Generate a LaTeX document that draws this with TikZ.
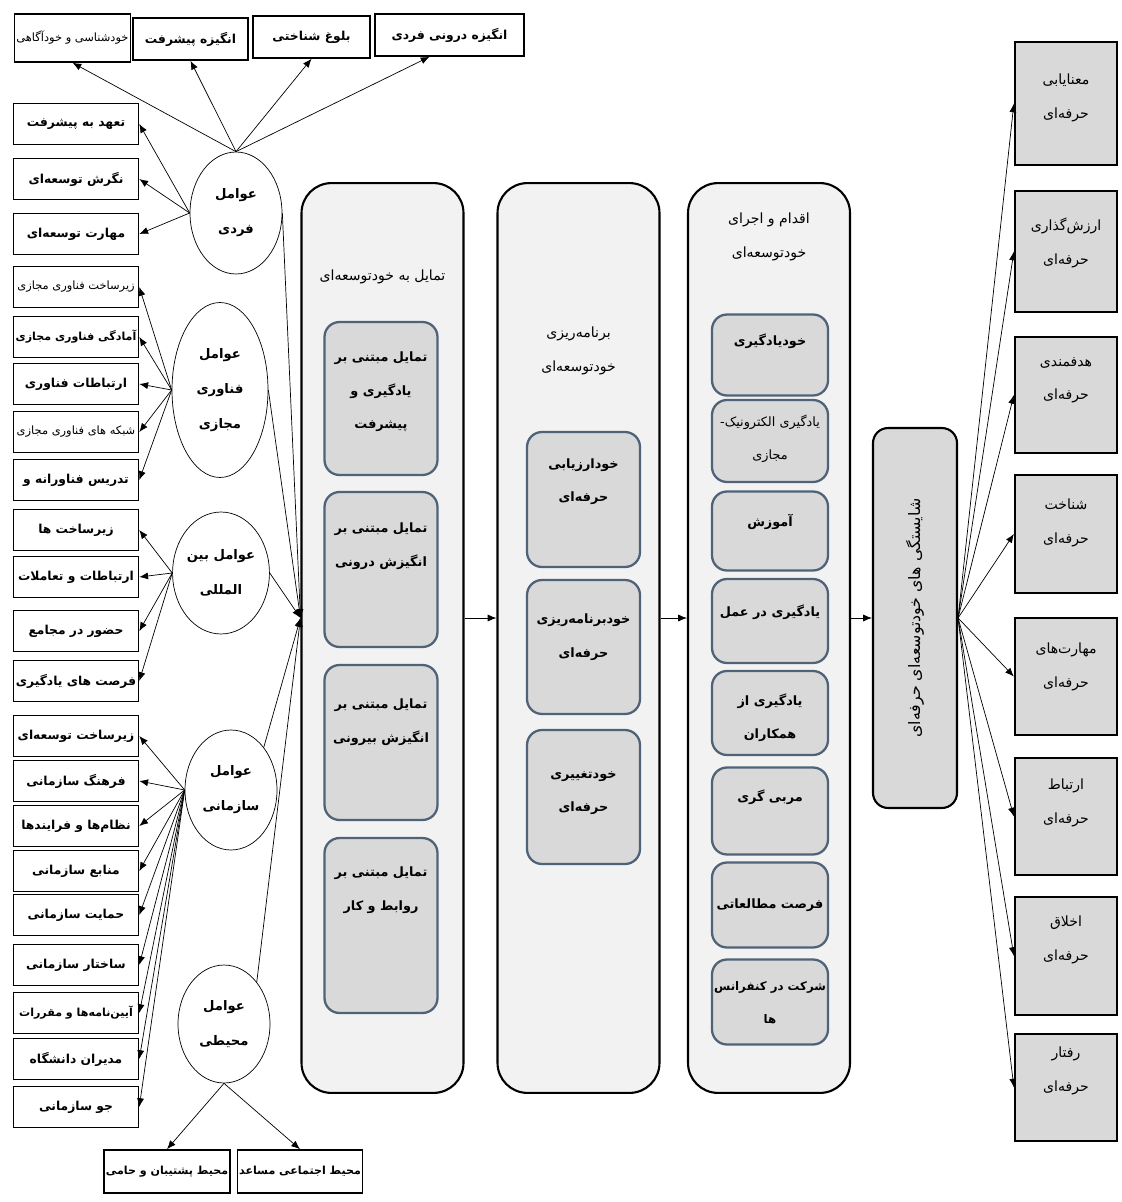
\documentclass[tikz,border=0pt]{standalone}
\usepackage{fontspec}
\usepackage{xcolor}
\usepackage{tikz}
\usetikzlibrary{shapes.geometric,arrows.meta}
\newfontfamily\farsi[Script=Arabic]{DejaVu Sans}
\TeXXeTstate=1
\newcommand{\fa}[1]{\beginR#1\endR}
\definecolor{panelgray}{HTML}{F2F2F2}
\definecolor{boxgray}{HTML}{D9D9D9}
\definecolor{boxblue}{HTML}{4F6278}

\begin{document}
\begin{tikzpicture}[x=0.02cm,y=-0.02cm,
    every node/.style={font=\farsi\fontsize{8}{10}\selectfont},
    factor/.style={draw,line width=0.9pt,fill=white,minimum width=2.5cm,minimum height=0.82cm,inner sep=1pt,font=\farsi\bfseries\fontsize{7}{10}\selectfont},
    longfactor/.style={factor,font=\farsi\bfseries\fontsize{6.3}{10}\selectfont},
    thinfactor/.style={factor,font=\farsi\fontsize{6.5}{10}\selectfont},
    cause/.style={draw,ellipse,fill=white,thin,minimum width=1.84cm,minimum height=2.44cm,inner sep=0pt,align=center,font=\farsi\bfseries\fontsize{7.5}{20}\selectfont},
    panel/.style={draw,line width=1.2pt,fill=panelgray,rounded corners=0.6cm,minimum width=3.24cm,minimum height=18.2cm},
    stage/.style={draw=boxblue,line width=1.3pt,fill=boxgray,rounded corners=0.3cm,minimum width=2.26cm},
    outcome/.style={draw,line width=1.3pt,fill=boxgray,minimum width=2.04cm},
    txt/.style={align=center,font=\farsi\fontsize{8}{19}\selectfont},
    btxt/.style={align=center,font=\farsi\bfseries\fontsize{7.3}{19}\selectfont},
    arr/.style={-{Latex[length=5pt,width=4pt]},thin}]
        \useasboundingbox (0,0) rectangle (1121,1202);

        \node[factor,minimum width=2.3cm,minimum height=0.96cm,font=\farsi\fontsize{6.5}{10}\selectfont] (t1) at (72.5,38) {\fa{خودشناسی و خودآگاهی}};
        \node[factor,minimum width=2.3cm,minimum height=0.84cm] (t2) at (190.5,39) {\fa{انگیزه پیشرفت}};
        \node[factor,minimum width=2.34cm,minimum height=0.84cm] (t3) at (311.5,37) {\fa{بلوغ شناختی}};
        \node[factor,minimum width=2.98cm,minimum height=0.84cm] (t4) at (449.5,35) {\fa{انگیزه درونی فردی}};

        \node[factor] (f1) at (76,124) {\fa{تعهد به پیشرفت}};
        \node[factor] (f2) at (76,179) {\fa{نگرش توسعه‌ای}};
        \node[factor] (f3) at (76,234) {\fa{مهارت توسعه‌ای}};
        \node[thinfactor] (f4) at (76,287) {\fa{زیرساخت فناوری مجازی}};
        \node[longfactor] (f5) at (76,337) {\fa{آمادگی فناوری مجازی}};
        \node[factor] (f6) at (76,384) {\fa{ارتباطات فناوری}};
        \node[thinfactor] (f7) at (76,432) {\fa{شبکه های فناوری مجازی}};
        \node[factor] (f8) at (76,480) {\fa{تدریس فناورانه و}};
        \node[factor] (f9) at (76,530) {\fa{زیرساخت ها}};
        \node[factor] (f10) at (76,577) {\fa{ارتباطات و تعاملات}};
        \node[factor] (f11) at (76,631) {\fa{حضور در مجامع}};
        \node[factor] (f12) at (76,681) {\fa{فرصت های یادگیری}};
        \node[factor] (f13) at (76,736) {\fa{زیرساخت توسعه‌ای}};
        \node[factor] (f14) at (76,781) {\fa{فرهنگ سازمانی}};
        \node[factor] (f15) at (76,826) {\fa{نظام‌ها و فرایندها}};
        \node[factor] (f16) at (76,871) {\fa{منابع سازمانی}};
        \node[factor] (f17) at (76,915) {\fa{حمایت سازمانی}};
        \node[factor] (f18) at (76,965) {\fa{ساختار سازمانی}};
        \node[longfactor] (f19) at (76,1013) {\fa{آیین‌نامه‌ها و مقررات}};
        \node[factor] (f20) at (76,1059) {\fa{مدیران دانشگاه}};
        \node[factor] (f21) at (76,1107) {\fa{جو سازمانی}};
        \node[longfactor,minimum width=2.48cm,minimum height=0.86cm] (b1) at (167,1171.5) {\fa{محیط پشتیبان و حامی}};
        \node[longfactor,minimum width=2.48cm,minimum height=0.86cm] (b2) at (300,1171.5) {\fa{محیط اجتماعی مساعد}};

        \node[cause] (fardi) at (236,213) {\fa{عوامل}\\\fa{فردی}};
        \node[cause,minimum width=1.92cm,minimum height=3.5cm] (fanavari) at (220,390) {\fa{عوامل}\\\fa{فناوری}\\\fa{مجازی}};
        \node[cause] (beyn) at (221,573) {\fa{عوامل بین}\\\fa{المللی}};
        \node[cause,minimum height=2.4cm] (sazmani) at (231,790) {\fa{عوامل}\\\fa{سازمانی}};
        \node[cause,minimum height=2.36cm] (mohiti) at (224,1024) {\fa{عوامل}\\\fa{محیطی}};

        \node[panel] (want) at (382.5,638) {};
        \node[panel] (plan) at (578.5,638) {};
        \node[panel] (act) at (769,638) {};
        \node[txt] at (382.5,277) {\fa{تمایل به خودتوسعه‌ای}};
        \node[txt] at (578.5,351) {\fa{برنامه‌ریزی}\\\fa{خودتوسعه‌ای}};
        \node[txt] at (769,237) {\fa{اقدام و اجرای}\\\fa{خودتوسعه‌ای}};

        \node[stage,minimum height=3.06cm] (w1) at (381,398.5) {};
        \node[stage,minimum height=3.1cm] (w2) at (381,569.5) {};
        \node[stage,minimum height=3.1cm] (w3) at (381,742.5) {};
        \node[stage,minimum height=3.5cm] (w4) at (381,925.5) {};
        \node[btxt] at (381,392) {\fa{تمایل مبتنی بر}\\\fa{یادگیری و}\\\fa{پیشرفت}};
        \node[btxt] at (381,546) {\fa{تمایل مبتنی بر}\\\fa{انگیزش درونی}};
        \node[btxt] at (381,722) {\fa{تمایل مبتنی بر}\\\fa{انگیزش بیرونی}};
        \node[btxt] at (381,890) {\fa{تمایل مبتنی بر}\\\fa{روابط و کار}};

        \node[stage,minimum height=2.7cm] (p1) at (583.5,499.5) {};
        \node[stage,minimum height=2.68cm] (p2) at (583.5,647) {};
        \node[stage,minimum height=2.68cm] (p3) at (583.5,797) {};
        \node[btxt] at (583.5,482) {\fa{خودارزیابی}\\\fa{حرفه‌ای}};
        \node[btxt] at (583.5,637) {\fa{خودبرنامه‌ریزی}\\\fa{حرفه‌ای}};
        \node[btxt] at (583.5,793) {\fa{خودتغییری}\\\fa{حرفه‌ای}};

        \node[stage,minimum width=2.32cm,minimum height=1.62cm] (a1) at (770,355) {};
        \node[stage,minimum width=2.32cm,minimum height=1.64cm] (a2) at (770,441) {};
        \node[stage,minimum width=2.32cm,minimum height=1.58cm] (a3) at (770,531) {};
        \node[stage,minimum width=2.32cm,minimum height=1.68cm] (a4) at (770,621) {};
        \node[stage,minimum width=2.32cm,minimum height=1.68cm] (a5) at (770,713) {};
        \node[stage,minimum width=2.32cm,minimum height=1.74cm] (a6) at (770,811) {};
        \node[stage,minimum width=2.32cm,minimum height=1.7cm] (a7) at (770,905) {};
        \node[stage,minimum width=2.32cm,minimum height=1.7cm] (a8) at (770,1002) {};
        \node[btxt] at (770,341) {\fa{خودیادگیری}};
        \node[txt,font=\farsi\fontsize{7.3}{19}\selectfont] at (770,439) {\fa{یادگیری الکترونیک\kern0pt-}\\\fa{مجازی}};
        \node[btxt] at (770,522) {\fa{آموزش}};
        \node[btxt] at (770,612) {\fa{یادگیری در عمل}};
        \node[btxt] at (770,718) {\fa{یادگیری از}\\\fa{همکاران}};
        \node[btxt] at (770,797) {\fa{مربی گری}};
        \node[btxt] at (770,905) {\fa{فرصت مطالعاتی}};
        \node[btxt,font=\farsi\bfseries\fontsize{6.7}{19}\selectfont] at (770,1003) {\fa{شرکت در کنفرانس}\\\fa{ها}};

        \node[draw,line width=1.2pt,fill=boxgray,rounded corners=0.3cm,minimum width=1.68cm,minimum height=7.6cm] (comp) at (915,618) {};
        \node[rotate=90,font=\farsi\fontsize{9}{10}\selectfont] at (comp) {\fa{شایستگی های خودتوسعه‌ای حرفه‌ای}};

        \node[outcome,minimum height=2.46cm] (r1) at (1066,103.5) {};
        \node[outcome,minimum height=2.42cm] (r2) at (1066,251.5) {};
        \node[outcome,minimum height=2.32cm] (r3) at (1066,395) {};
        \node[outcome,minimum height=2.36cm] (r4) at (1066,534) {};
        \node[outcome,minimum height=2.34cm] (r5) at (1066,676.5) {};
        \node[outcome,minimum height=2.34cm] (r6) at (1066,816.5) {};
        \node[outcome,minimum height=2.36cm] (r7) at (1066,956) {};
        \node[outcome,minimum height=2.14cm] (r8) at (1066,1087.5) {};
        \node[txt] at (1066,98) {\fa{معنایابی}\\\fa{حرفه‌ای}};
        \node[txt] at (1066,243) {\fa{ارزش‌گذاری}\\\fa{حرفه‌ای}};
        \node[txt] at (1066,380) {\fa{هدفمندی}\\\fa{حرفه‌ای}};
        \node[txt] at (1066,523) {\fa{شناخت}\\\fa{حرفه‌ای}};
        \node[txt] at (1066,667) {\fa{مهارت‌های}\\\fa{حرفه‌ای}};
        \node[txt] at (1066,803) {\fa{ارتباط}\\\fa{حرفه‌ای}};
        \node[txt] at (1066,940) {\fa{اخلاق}\\\fa{حرفه‌ای}};
        \node[txt] at (1066,1071) {\fa{رفتار}\\\fa{حرفه‌ای}};

        \coordinate (conv) at (want.west |- comp.west);

        \draw[arr] (fardi.north) -- (t1.south);
        \draw[arr] (fardi.north) -- (t2.south);
        \draw[arr] (fardi.north) -- (t3.south);
        \draw[arr] (fardi.north) -- ([xshift=-0.4cm]t4.south);
        \draw[arr] (fardi.west) -- (f1.east);
        \draw[arr] (fardi.west) -- (f2.east);
        \draw[arr] (fardi.west) -- (f3.east);
        \draw[arr] (fanavari.west) -- (f4.east);
        \draw[arr] (fanavari.west) -- (f5.east);
        \draw[arr] (fanavari.west) -- (f6.east);
        \draw[arr] (fanavari.west) -- (f7.east);
        \draw[arr] (fanavari.west) -- (f8.east);
        \draw[arr] (beyn.west) -- (f9.east);
        \draw[arr] (beyn.west) -- (f10.east);
        \draw[arr] (beyn.west) -- (f11.east);
        \draw[arr] (beyn.west) -- (f12.east);
        \draw[arr] (sazmani.west) -- (f13.east);
        \draw[arr] (sazmani.west) -- (f14.east);
        \draw[arr] (sazmani.west) -- (f15.east);
        \draw[arr] (sazmani.west) -- (f16.east);
        \draw[arr] (sazmani.west) -- (f17.east);
        \draw[arr] (sazmani.west) -- (f18.east);
        \draw[arr] (sazmani.west) -- (f19.east);
        \draw[arr] (sazmani.west) -- (f20.east);
        \draw[arr] (sazmani.west) -- (f21.east);
        \draw[arr] (mohiti.south) -- (b1.north);
        \draw[arr] (mohiti.south) -- (b2.north);

        \draw[arr] (fardi.east) -- (conv);
        \draw[arr] (fanavari.east) -- (conv);
        \draw[arr] (beyn.east) -- (conv);
        \draw[arr] (sazmani.north east) -- (conv);
        \draw[arr] (mohiti.north east) -- (conv);

        \draw[arr] (want.east |- comp.west) -- (plan.west |- comp.west);
        \draw[arr] (plan.east |- comp.west) -- (act.west |- comp.west);
        \draw[arr] (act.east |- comp.west) -- (comp.west);

        \draw[arr] (comp.east) -- (r1.west);
        \draw[arr] (comp.east) -- (r2.west);
        \draw[arr] (comp.east) -- (r3.west);
        \draw[arr] (comp.east) -- (r4.west);
        \draw[arr] (comp.east) -- (r5.west);
        \draw[arr] (comp.east) -- (r6.west);
        \draw[arr] (comp.east) -- (r7.west);
        \draw[arr] (comp.east) -- (r8.west);
\end{tikzpicture}
\end{document}
